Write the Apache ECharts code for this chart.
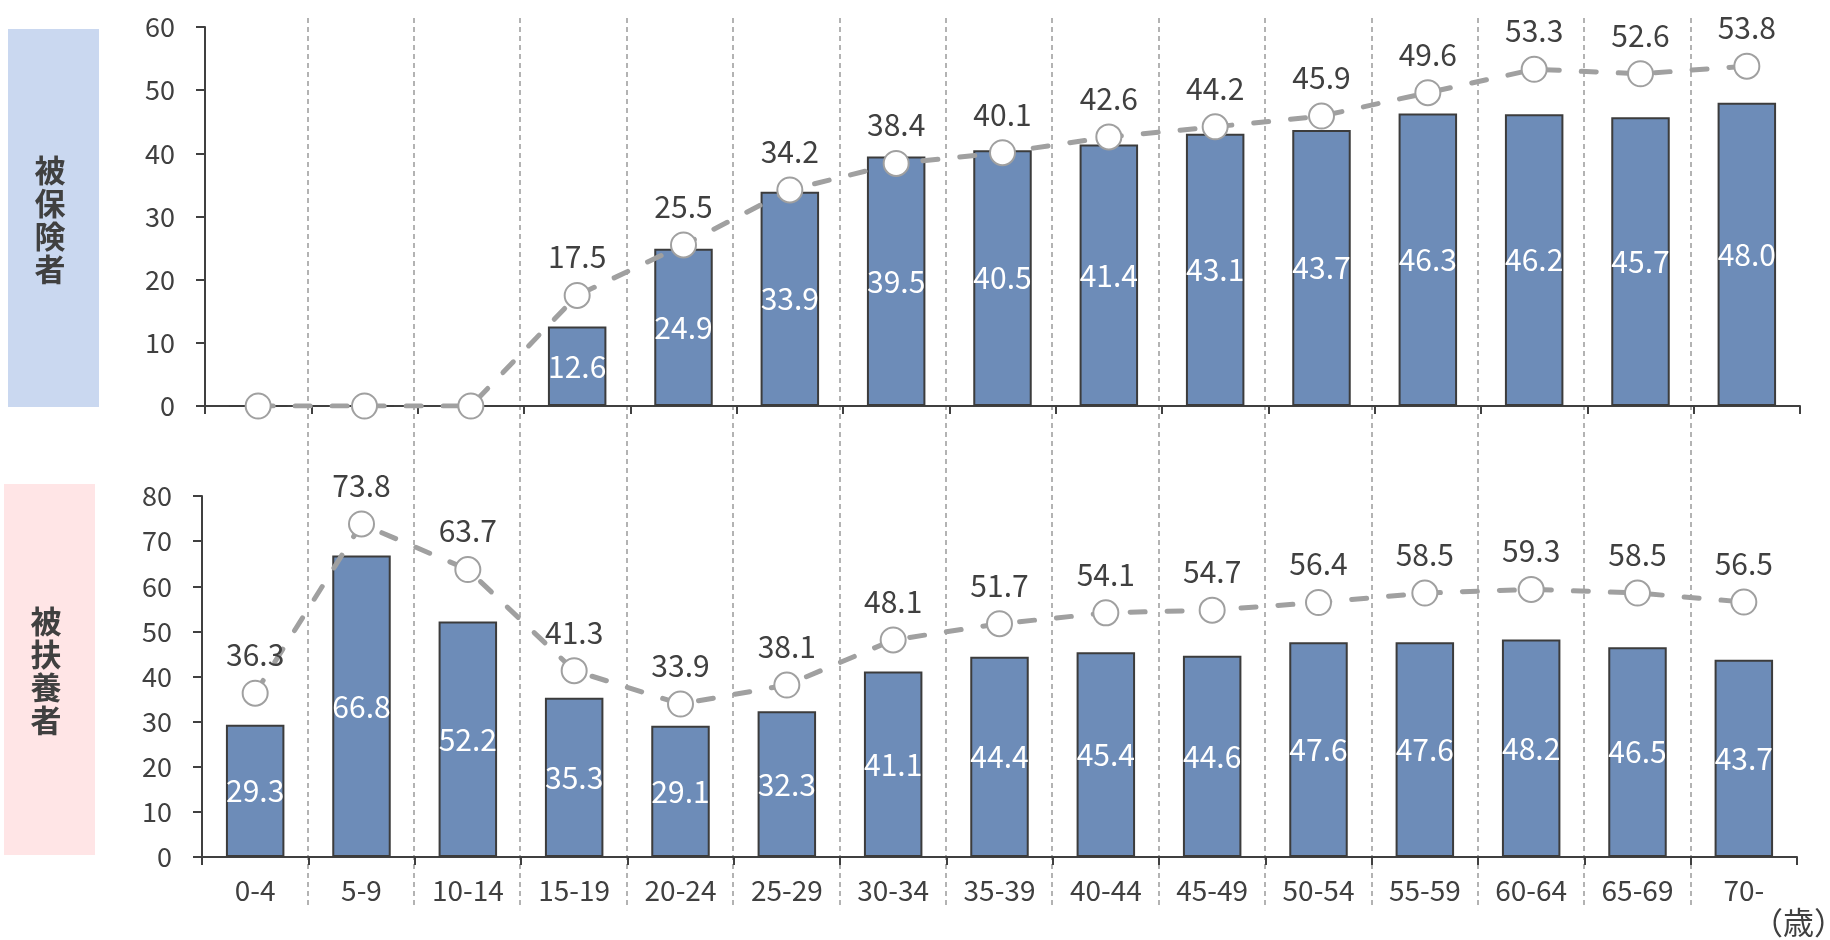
<!DOCTYPE html>
<html>
<head>
<meta charset="utf-8">
<script src="https://cdn.jsdelivr.net/npm/echarts@6/dist/echarts.min.js"></script>
<style>
html,body{margin:0;padding:0;background:#fff;}
#main{width:1830px;height:940px;}
</style>
</head>
<body>
<div id="main"></div>
<script>
const categories = ['0-4','5-9','10-14','15-19','20-24','25-29','30-34','35-39','40-44','45-49','50-54','55-59','60-64','65-69','70-'];
const insuredBar = [0,0,0,12.6,24.9,33.9,39.5,40.5,41.4,43.1,43.7,46.3,46.2,45.7,48.0];
const insuredLine = [0,0,0,17.5,25.5,34.2,38.4,40.1,42.6,44.2,45.9,49.6,53.3,52.6,53.8];
const dependentBar = [29.3,66.8,52.2,35.3,29.1,32.3,41.1,44.4,45.4,44.6,47.6,47.6,48.2,46.5,43.7];
const dependentLine = [36.3,73.8,63.7,41.3,33.9,38.1,48.1,51.7,54.1,54.7,56.4,58.5,59.3,58.5,56.5];
const panelTitles = ['被保険者','被扶養者'];
const unitLabel = '（歳）';

const FONT = '"Noto Sans CJK JP", "Noto Sans", sans-serif';
const TXT = '#404040';
const chart = echarts.init(document.getElementById('main'));

function fmt(p){ return p.value === 0 ? '' : Number(p.value).toFixed(1); }

function barSeries(data, idx){
  return {
    type:'bar', xAxisIndex:idx, yAxisIndex:idx, data:data, barWidth:'55%', z:2,
    itemStyle:{color:'#6D8CB8', borderColor:'#3c3c3c', borderWidth:2},
    label:{show:true, position:'inside', color:'#fff', fontSize:30, fontFamily:FONT, formatter:fmt}
  };
}
function lineSeries(data, idx){
  return {
    type:'line', xAxisIndex:idx, yAxisIndex:idx, data:data, z:5,
    symbol:'circle', symbolSize:25,
    lineStyle:{color:'#A0A0A0', width:5, type:[15,22], cap:'round'},
    itemStyle:{color:'#fff', borderColor:'#A0A0A0', borderWidth:2},
    label:{show:true, position:'top', distance:10, color:TXT, fontSize:30, fontFamily:FONT, formatter:fmt}
  };
}
function catAxis(idx, showLabels){
  return {
    type:'category', gridIndex:idx, data:categories, boundaryGap:true,
    axisLine:{show:true, lineStyle:{color:TXT, width:2}},
    axisTick:{show:true, length:8, lineStyle:{color:TXT, width:2}},
    axisLabel:{show:showLabels, color:TXT, fontSize:28, fontFamily:FONT, margin:19, interval:0},
    splitLine:{show:false}
  };
}
function valAxis(idx, max){
  return {
    type:'value', gridIndex:idx, min:0, max:max, interval:10,
    axisLine:{show:true, lineStyle:{color:TXT, width:2}},
    axisTick:{show:true, length:9, lineStyle:{color:TXT, width:2}},
    axisLabel:{color:TXT, fontSize:27, fontFamily:FONT, margin:30},
    splitLine:{show:false}
  };
}

chart.setOption({
  animation:false,
  backgroundColor:'#fff',
  grid:[
    {left:205, right:30, top:27, height:379},
    {left:202, right:33, top:496, height:361},
    {left:201, right:33, top:18, height:889}
  ],
  xAxis:[
    catAxis(0,false),
    catAxis(1,true),
    {type:'value', gridIndex:2, min:0, max:15, interval:1,
     axisLine:{show:false}, axisTick:{show:false}, axisLabel:{show:false},
     splitLine:{show:true, showMinLine:false, showMaxLine:false, lineStyle:{color:'#9a9a9a', width:1.5, type:[5,4]}}}
  ],
  yAxis:[
    valAxis(0,60),
    valAxis(1,80),
    {type:'value', gridIndex:2, min:0, max:1, show:false}
  ],
  series:[
    barSeries(insuredBar,0),
    lineSeries(insuredLine,0),
    barSeries(dependentBar,1),
    lineSeries(dependentLine,1)
  ],
  graphic:[
    {type:'rect', shape:{x:8, y:29, width:91, height:378}, style:{fill:'#CAD8F0'}, z:-1},
    {type:'text', x:50, y:220, style:{text:panelTitles[0].split('').join('\n'), fill:TXT, font:'bold 31px "Noto Sans CJK JP"', lineHeight:33, align:'center', verticalAlign:'middle'}},
    {type:'rect', shape:{x:4, y:484, width:91, height:371}, style:{fill:'#FFE5E6'}, z:-1},
    {type:'text', x:46, y:671, style:{text:panelTitles[1].split('').join('\n'), fill:TXT, font:'bold 31px "Noto Sans CJK JP"', lineHeight:33, align:'center', verticalAlign:'middle'}},
    {type:'text', x:1845, y:922, style:{text:unitLabel, fill:TXT, font:'31px "Noto Sans CJK JP"', align:'right', verticalAlign:'middle'}}
  ]
});
</script>
</body>
</html>
